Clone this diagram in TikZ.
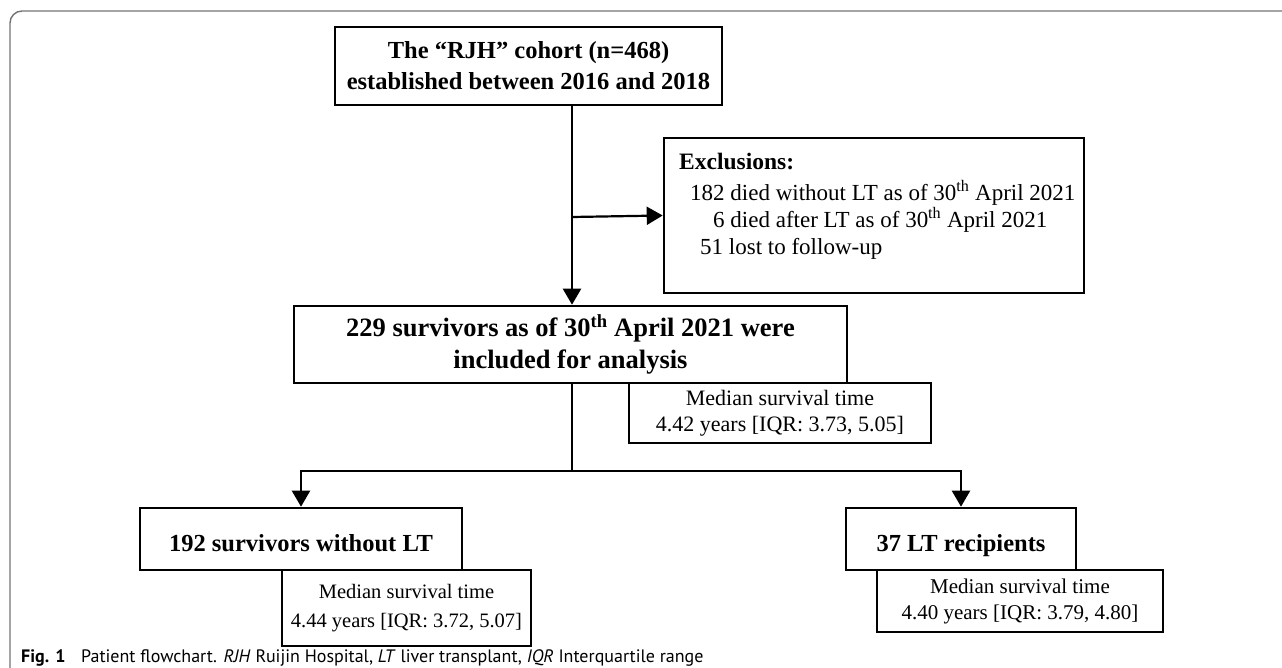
\documentclass[tikz,border=0pt]{standalone}
\usepackage{fontspec}
\setmainfont{Liberation Serif}
\newfontfamily\capfont{PT Sans}
\usetikzlibrary{arrows.meta}
\tikzset{
  bx/.style={draw=black, line width=2.6pt, fill=white, inner sep=0pt},
  tit/.style={font=\fontsize{24.5}{31}\selectfont\bfseries, align=center},
  med/.style={font=\fontsize{21}{26}\selectfont, align=center},
  exl/.style={font=\fontsize{23}{28}\selectfont, anchor=base west, inner sep=0pt},
  conn/.style={line width=2.2pt, draw=black},
  arr/.style={conn, -{Triangle[length=16pt,width=18pt]}},
  frame/.style={draw=black!55, line width=1.4pt}
}
\begin{document}
\begin{tikzpicture}[x=1pt,y=-1pt]
\useasboundingbox (0,0) rectangle (1282,668);
% outer frame
\draw[frame, rounded corners=12pt] (10,668) -- (10,11) -- (1282,11);

% top box
\node[bx, tit, minimum width=387pt, minimum height=78pt] (top) at (528.5,66)
  {The \char"201C RJH\char"201D\ cohort (n=468)\\established between 2016 and 2018};
% exclusions
\node[bx, minimum width=420pt, minimum height=155pt] (excl) at (874,215.5) {};
\node[exl, font=\fontsize{23.5}{28}\selectfont\bfseries] (ex0) at (679,170) {Exclusions:};
\node[exl] (ex1) at (690,201) {182 died without LT as of 30\textsuperscript{th} April 2021};
\node[exl] (ex2) at (713,228) {6 died after LT as of 30\textsuperscript{th} April 2021};
\node[exl] (ex3) at (700,255) {51 lost to follow-up};
% middle
\node[bx, tit, font=\fontsize{26.5}{32}\selectfont\bfseries, minimum width=553pt, minimum height=77pt] (mid) at (570.5,344.5)
  {229 survivors as of 30\textsuperscript{th} April 2021 were\\included for analysis};
\node[bx, med, font=\fontsize{22}{26}\selectfont, minimum width=302pt, minimum height=60pt] (m1) at (780,413)
  {Median survival time\\4.42 years [IQR: 3.73, 5.05]};
% bottom
\node[bx, tit, minimum width=322pt, minimum height=62pt] (left) at (301,539)
  {\raisebox{-6pt}[0.7em][0.2em]{192 survivors without LT}};
\node[bx, med, font=\fontsize{20.5}{29}\selectfont, minimum width=249pt, minimum height=76pt] (m2) at (406.5,608)
  {Median survival time\\4.44 years [IQR: 3.72, 5.07]};
\node[bx, tit, minimum width=230pt, minimum height=62pt] (right) at (961,539)
  {\raisebox{-6pt}[0.7em][0.2em]{37 LT recipients}};
\node[bx, med, minimum width=286pt, minimum height=62pt] (m3) at (1020,601)
  {Median survival time\\4.40 years [IQR: 3.79, 4.80]};

% connectors
\coordinate (j1) at (572,217);
\coordinate (j2) at (572,471);
\draw[arr] (top.south -| j1) -- (j1 |- mid.north);
\draw[arr] (j1) -- (excl.west);
\draw[conn] (j1 |- mid.south) -- (j2);
\draw[arr] (j2) -| (left.north);
\draw[arr] (j2) -| (right.north);

% caption
\node[anchor=base west, inner sep=0pt, font=\capfont\fontsize{18}{20}\selectfont] (cap) at (21,662)
  {\textbf{Fig. 1}\hspace{0.6em} Patient flowchart. \textit{RJH} Ruijin Hospital, \textit{LT} liver transplant, \textit{IQR} Interquartile range};
\end{tikzpicture}
\end{document}
